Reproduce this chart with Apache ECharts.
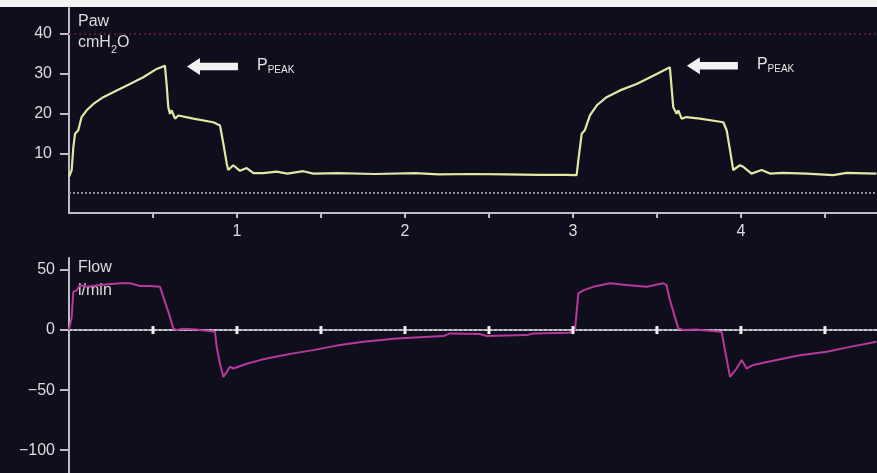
<!DOCTYPE html>
<html>
<head>
<meta charset="utf-8">
<script src="https://cdn.jsdelivr.net/npm/echarts@6/dist/echarts.min.js"></script>
<style>
  html, body { margin: 0; padding: 0; background: #ffffff; }
  #main { width: 877px; height: 473px; }
</style>
</head>
<body>
<div id="main"></div>
<script>
// airway pressure (cmH2O) vs time (s)
var pawT = [0, 0.016, 0.026, 0.036, 0.055, 0.075, 0.105, 0.145, 0.204, 0.284, 0.363, 0.442, 0.522, 0.571,
  0.581, 0.591, 0.601, 0.611, 0.631, 0.651, 0.740, 0.859, 0.899, 0.919, 0.939, 0.948, 0.978, 1.018, 1.058,
  1.098, 1.157, 1.236, 1.30, 1.395, 1.454, 1.60, 1.82, 2.06, 2.20, 2.40, 2.60, 2.80, 2.95, 3.022,
  3.032, 3.052, 3.071, 3.101, 3.141, 3.20, 3.28, 3.379, 3.478, 3.577, 3.587, 3.597, 3.617, 3.627, 3.647,
  3.676, 3.756, 3.895, 3.915, 3.935, 3.954, 3.994, 4.014, 4.063, 4.123, 4.173, 4.252, 4.391, 4.55, 4.629, 4.807];
var pawV = [4.1, 5.8, 11.6, 14.9, 15.8, 19.1, 20.8, 22.4, 24.1, 25.8, 27.4, 29.1, 31.2, 32,
  27.4, 21.6, 19.9, 20.8, 18.7, 19.5, 18.7, 17.8, 17, 12.4, 7.4, 5.8, 7, 5.6, 6.3,
  5.0, 5.0, 5.4, 4.9, 5.5, 4.9, 5.0, 4.8, 5.0, 4.7, 4.8, 4.7, 4.6, 4.6, 4.5,
  8.3, 14.9, 15.8, 19.5, 22, 24.1, 25.8, 27.4, 29.5, 31.6, 26.6, 21.6, 19.9, 20.8, 18.7,
  19.1, 18.7, 17.8, 15.8, 10.8, 5.8, 7, 6.6, 4.9, 5.8, 4.9, 5.1, 4.9, 4.5, 5.1, 4.9];

// flow (l/min) vs time (s)
var flowT = [0, 0.016, 0.026, 0.046, 0.065, 0.105, 0.185, 0.304, 0.363, 0.423, 0.482, 0.542, 0.561, 0.581,
  0.601, 0.621, 0.641, 0.68, 0.76, 0.78, 0.869, 0.879, 0.899, 0.919, 0.939, 0.958, 0.978, 1.058, 1.137,
  1.236, 1.335, 1.454, 1.554, 1.613, 1.752, 1.95, 2.228, 2.268, 2.446, 2.486, 2.724, 2.764, 2.982, 3.012,
  3.032, 3.042, 3.061, 3.121, 3.22, 3.319, 3.438, 3.538, 3.557, 3.577, 3.607, 3.627, 3.657, 3.736, 3.756,
  3.885, 3.905, 3.935, 3.974, 4.004, 4.034, 4.073, 4.212, 4.351, 4.51, 4.649, 4.807];
var flowV = [0, 11, 32, 33, 37.5, 36, 37.5, 39, 39, 36.7, 36.7, 36, 27.8, 19.4,
  11, 1.4, 0, 1.1, 0.5, 0, -1.4, -14, -28, -39, -35, -30.5, -32, -28, -25,
  -22, -19.4, -16.7, -14, -12.5, -9.7, -7, -5, -2.8, -3.3, -5, -4.2, -2.8, -2.2, 0,
  30.5, 32, 33, 36, 39, 37.5, 36, 39, 37.5, 25, 11, 1.4, 0, 0.5, 0,
  -1.4, -16.7, -39, -32, -25, -32, -29, -25, -21, -18, -14, -9.7];

var xTicks = [0.5, 1, 1.5, 2, 2.5, 3, 3.5, 4, 4.5];
var xLabels = [1, 2, 3, 4];
var pawTicks = [10, 20, 30, 40];
var flowTicks = [50, 0, -50, -100];
// peak pressure markers (time, value)
var peakMarks = [[0.854, 31.8], [3.83, 32]];

function zip(a, b) {
  var out = [];
  for (var i = 0; i < a.length; i++) out.push([a[i], b[i]]);
  return out;
}

var axisGray = '#bdbdc6';
var textGray = '#dcdcdc';
var fontFam = '"Liberation Sans", Arial, sans-serif';
var arrowPath = 'path://M0,9 L13,0 L13,5 L51,5 L51,13 L13,13 L13,18 Z';

var myChart = echarts.init(document.getElementById('main'));
var option = {
  backgroundColor: '#0f0e1d',
  animation: false,
  textStyle: { fontFamily: fontFam },
  grid: [
    { left: 69, right: 0, top: 8, height: 205, containLabel: false, outerBoundsMode: 'none' },
    { left: 69, right: 0, top: 258, height: 215, containLabel: false, outerBoundsMode: 'none' }
  ],
  xAxis: [
    {
      type: 'value', gridIndex: 0, min: 0, max: 4.81,
      splitLine: { show: false },
      axisLine: { onZero: false, lineStyle: { color: axisGray, width: 2 } },
      axisTick: { customValues: xTicks, length: 5, lineStyle: { color: axisGray, width: 2 } },
      axisLabel: { customValues: xLabels, color: textGray, fontSize: 16, margin: 11, fontFamily: fontFam }
    },
    {
      type: 'value', gridIndex: 1, min: 0, max: 4.81, position: 'bottom',
      splitLine: { show: false },
      axisLine: { onZero: true, lineStyle: { color: '#c9c9d2', width: 2, type: [3, 2] } },
      axisTick: { show: false },
      axisLabel: { show: false }
    }
  ],
  yAxis: [
    {
      type: 'value', gridIndex: 0, min: -5, max: 46.5,
      splitLine: { show: false },
      axisLine: { show: true, onZero: false, lineStyle: { color: axisGray, width: 2 } },
      axisTick: { show: true, customValues: pawTicks, length: 9, lineStyle: { color: axisGray, width: 2 } },
      axisLabel: { customValues: pawTicks, color: textGray, fontSize: 16, margin: 17, fontFamily: fontFam }
    },
    {
      type: 'value', gridIndex: 1, min: -119, max: 60,
      splitLine: { show: false },
      axisLine: { show: true, onZero: false, lineStyle: { color: axisGray, width: 2 } },
      axisTick: { show: true, customValues: flowTicks, length: 9, lineStyle: { color: axisGray, width: 2 } },
      axisLabel: {
        customValues: flowTicks, color: textGray, fontSize: 16, margin: 14, fontFamily: fontFam,
        formatter: function (v) { return v < 0 ? '\u2212' + Math.abs(v) : String(v); }
      }
    }
  ],
  series: [
    {
      name: 'Paw', type: 'line', xAxisIndex: 0, yAxisIndex: 0,
      data: zip(pawT, pawV), showSymbol: false, symbol: 'none',
      lineStyle: { color: '#e4e6a6', width: 2.2 },
      markLine: {
        silent: true, symbol: 'none', label: { show: false },
        data: [
          { yAxis: 0, lineStyle: { color: '#8c8c9c', width: 2, type: [2, 2] } },
          { yAxis: 40, lineStyle: { color: '#5e1632', width: 2, type: [2, 3] } }
        ]
      },
      markPoint: {
        silent: true,
        symbol: arrowPath, symbolSize: [51, 17],
        itemStyle: { color: '#f2f2f2' },
        label: {
          show: true, position: 'right', distance: 19,
          formatter: '{p|P}{s|PEAK}',
          rich: {
            p: { color: '#e6e6e6', fontSize: 16, fontFamily: fontFam, lineHeight: 18, verticalAlign: 'top' },
            s: { color: '#e6e6e6', fontSize: 10, fontFamily: fontFam, lineHeight: 12, verticalAlign: 'bottom' }
          }
        },
        data: peakMarks.map(function (m) { return { coord: m }; })
      }
    },
    {
      name: 'Flow', type: 'line', xAxisIndex: 1, yAxisIndex: 1,
      data: zip(flowT, flowV), showSymbol: false, symbol: 'none',
      lineStyle: { color: '#b8389c', width: 2 },
      // small white tick blocks sitting on the zero line
      markPoint: {
        silent: true, symbol: 'rect', symbolSize: [3, 8],
        itemStyle: { color: '#f0f0f0' },
        label: { show: false },
        data: xTicks.map(function (t) { return { coord: [t, 0] }; })
      }
    }
  ],
  graphic: [
    { type: 'rect', left: 0, top: 0, shape: { width: 877, height: 7 }, style: { fill: '#f3f3f3' }, silent: true },
    { type: 'text', left: 78, top: 14, style: { text: 'Paw', fill: textGray, fontSize: 16, fontFamily: fontFam } },
    {
      type: 'text', left: 78, top: 35,
      style: {
        text: '{a|cmH}{b|2}{a|O}', fill: textGray,
        rich: {
          a: { fill: textGray, fontSize: 16, fontFamily: fontFam, lineHeight: 20, verticalAlign: 'top' },
          b: { fill: textGray, fontSize: 11, fontFamily: fontFam, lineHeight: 13, verticalAlign: 'bottom' }
        }
      }
    },
    { type: 'text', left: 78, top: 260, style: { text: 'Flow', fill: textGray, fontSize: 16, fontFamily: fontFam } },
    { type: 'text', left: 78, top: 283, style: { text: 'l/min', fill: textGray, fontSize: 16, fontFamily: fontFam } }
  ]
};
myChart.setOption(option);
</script>
</body>
</html>
